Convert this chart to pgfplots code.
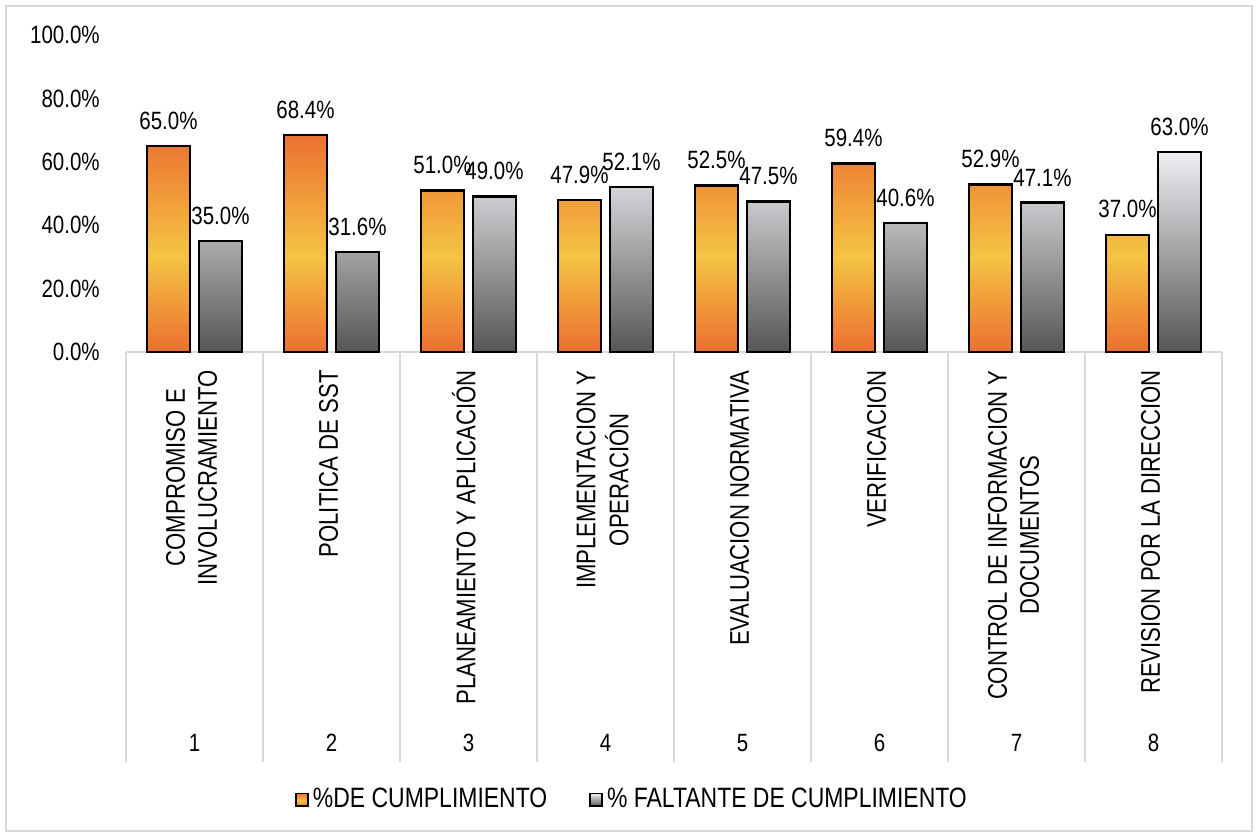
\documentclass[border=0pt]{standalone}
\usepackage{pgfplots}
\pgfplotsset{compat=1.18}
\usepackage{fontspec}
\setmainfont{Liberation Sans}[FakeStretch=0.82]
\definecolor{orT}{HTML}{EC7131}
\definecolor{orM}{HTML}{F4C443}
\definecolor{orB}{HTML}{EC6F30}
\definecolor{grT}{HTML}{EEEFF3}
\definecolor{grB}{HTML}{565656}
\definecolor{sep}{HTML}{D9D9D9}
\pgfdeclareverticalshading{orshade}{100bp}{color(0bp)=(orB); color(25bp)=(orB); color(47bp)=(orM); color(75bp)=(orT); color(100bp)=(orT)}
\pgfdeclareverticalshading{grshade}{100bp}{color(0bp)=(grB); color(25bp)=(grB); color(75bp)=(grT); color(100bp)=(grT)}
\begin{document}
\fontsize{12.5pt}{15pt}\selectfont
\begin{tikzpicture}
\begin{axis}[
  scale only axis,
  width=548pt, height=158.5pt,
  xmin=0.5, xmax=8.5, ymin=0, ymax=100,
  clip=false,
  ybar=4.5pt, bar width=21.5pt,
  axis x line*=bottom, axis y line*=left,
  x axis line style={draw=sep, line width=1pt, -},
  y axis line style={draw=none},
  xtick={1,...,8},
  xticklabels={
    {\rotatebox{90}{\fontsize{13.5pt}{15.9pt}\selectfont\begin{tabular}{@{}c@{}}COMPROMISO E\\INVOLUCRAMIENTO\end{tabular}}},
    {\rotatebox{90}{\fontsize{13.5pt}{15.9pt}\selectfont\begin{tabular}{@{}c@{}}POLITICA DE SST\end{tabular}}},
    {\rotatebox{90}{\fontsize{13.5pt}{15.9pt}\selectfont\begin{tabular}{@{}c@{}}PLANEAMIENTO Y APLICACIÓN\end{tabular}}},
    {\rotatebox{90}{\fontsize{13.5pt}{15.9pt}\selectfont\begin{tabular}{@{}c@{}}IMPLEMENTACION Y\\OPERACIÓN\end{tabular}}},
    {\rotatebox{90}{\fontsize{13.5pt}{15.9pt}\selectfont\begin{tabular}{@{}c@{}}EVALUACION NORMATIVA\end{tabular}}},
    {\rotatebox{90}{\fontsize{13.5pt}{15.9pt}\selectfont\begin{tabular}{@{}c@{}}VERIFICACION\end{tabular}}},
    {\rotatebox{90}{\fontsize{13.5pt}{15.9pt}\selectfont\begin{tabular}{@{}c@{}}CONTROL DE INFORMACION Y\\DOCUMENTOS\end{tabular}}},
    {\rotatebox{90}{\fontsize{13.5pt}{15.9pt}\selectfont\begin{tabular}{@{}c@{}}REVISION POR LA DIRECCION\end{tabular}}}
  },
  xticklabel style={anchor=north, yshift=-4.8pt},
  extra x ticks={1,...,8},
  extra x tick labels={1,2,3,4,5,6,7,8},
  extra x tick style={xticklabel style={yshift=-182pt}, major tick length=0pt},
  minor xtick={0.5,1.5,...,8.5},
  xtick align=outside,
  major tick length=0pt,
  minor tick length=205pt,
  minor x tick style={draw=sep, line width=1pt},
  ytick={0,20,...,100},
  yticklabel={\pgfmathprintnumber[fixed,fixed zerofill,precision=1]{\tick}\%},
  yticklabel style={xshift=-8.8pt},
  /pgf/number format/assume math mode=true,
  nodes near coords={\pgfmathprintnumber[fixed,fixed zerofill,precision=1]{\pgfplotspointmeta}\%},
  every node near coord/.append style={yshift=3.5pt, text=black},
  legend columns=2,
  legend style={draw=none, fill=none, inner sep=0pt,
    font=\fontsize{14pt}{16pt}\selectfont,
    at={(axis description cs:0.154,-1.413)}, anchor=west,
    /tikz/every even column/.append style={column sep=19pt}},
  legend image code/.code={\draw[#1, line width=0.9pt] (0pt,-3.2pt) rectangle (6pt,3.2pt);},
]
\draw[sep, line width=1pt] (axis description cs:-0.10949,1.09148) rectangle (axis description cs:1.02737,-1.51104);
\path (axis description cs:-0.11496,1.11041) rectangle (axis description cs:1.03285,-1.53312);
\addplot[draw=black, line width=1.2pt, shading=orshade]
  coordinates {(1,65.0) (2,68.4) (3,51.0) (4,47.9) (5,52.5) (6,59.4) (7,52.9) (8,37.0)};
\addlegendentry{\%DE CUMPLIMIENTO}
\addplot[draw=black, line width=1.2pt, shading=grshade]
  coordinates {(1,35.0) (2,31.6) (3,49.0) (4,52.1) (5,47.5) (6,40.6) (7,47.1) (8,63.0)};
\addlegendentry{\% FALTANTE DE  CUMPLIMIENTO}
\end{axis}
\end{tikzpicture}
\end{document}
